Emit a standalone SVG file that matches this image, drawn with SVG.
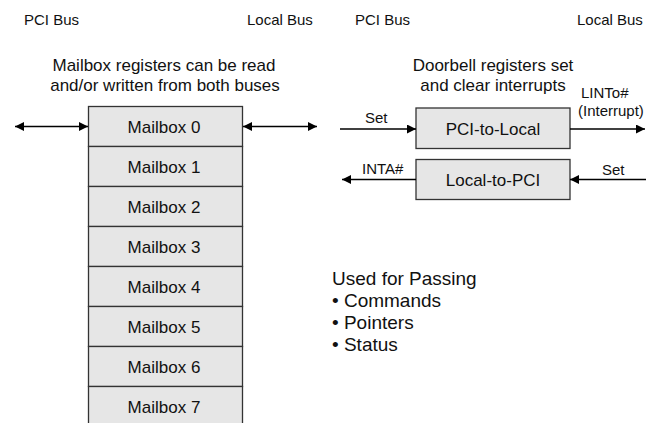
<svg xmlns="http://www.w3.org/2000/svg" width="646" height="423" viewBox="0 0 646 423">
<defs>
<marker id="ah" viewBox="0 0 10 10" refX="10" refY="5" markerWidth="10" markerHeight="9" markerUnits="userSpaceOnUse" orient="auto-start-reverse"><path d="M0,0 L10,5 L0,10 z" fill="#000"/></marker>
<style>
text{font-family:"Liberation Sans",Arial,sans-serif;fill:#111}
.sm{font-size:15px}
.tt{font-size:17px;text-anchor:middle}
.mb{font-size:17px;text-anchor:middle}
.ls{font-size:19px}
.box{fill:#e6e6e6;stroke:#333;stroke-width:1.3}
.ln{stroke:#000;stroke-width:1.6;fill:none}
</style>
</defs>
<rect width="646" height="423" fill="#fff"/>
<text class="sm" x="24" y="25">PCI Bus</text>
<text class="sm" x="247" y="25">Local Bus</text>
<text class="sm" x="355" y="25">PCI Bus</text>
<text class="sm" x="577" y="25">Local Bus</text>
<text class="tt" x="164" y="71">Mailbox registers can be read</text>
<text class="tt" x="165" y="91">and/or written from both buses</text>
<text class="tt" x="493" y="71">Doorbell registers set</text>
<text class="tt" x="493" y="91">and clear interrupts</text>
<g id="mailbox0"><rect class="box" x="88.5" y="106.5" width="154" height="40"/><text class="mb" x="164" y="132.5">Mailbox 0</text></g>
<g id="mailbox1"><rect class="box" x="88.5" y="146.5" width="154" height="40"/><text class="mb" x="164" y="172.5">Mailbox 1</text></g>
<g id="mailbox2"><rect class="box" x="88.5" y="186.5" width="154" height="40"/><text class="mb" x="164" y="212.5">Mailbox 2</text></g>
<g id="mailbox3"><rect class="box" x="88.5" y="226.5" width="154" height="40"/><text class="mb" x="164" y="252.5">Mailbox 3</text></g>
<g id="mailbox4"><rect class="box" x="88.5" y="266.5" width="154" height="40"/><text class="mb" x="164" y="292.5">Mailbox 4</text></g>
<g id="mailbox5"><rect class="box" x="88.5" y="306.5" width="154" height="40"/><text class="mb" x="164" y="332.5">Mailbox 5</text></g>
<g id="mailbox6"><rect class="box" x="88.5" y="346.5" width="154" height="40"/><text class="mb" x="164" y="372.5">Mailbox 6</text></g>
<g id="mailbox7"><rect class="box" x="88.5" y="386.5" width="154" height="40"/><text class="mb" x="164" y="412.5">Mailbox 7</text></g>
<g id="pci-to-local"><rect class="box" x="416" y="108" width="154" height="40.5"/><text class="mb" x="493" y="134.5">PCI-to-Local</text></g>
<g id="local-to-pci"><rect class="box" x="416" y="159.5" width="154" height="40"/><text class="mb" x="493" y="185.5">Local-to-PCI</text></g>
<g id="connectors">
<line class="ln" x1="15" y1="126.5" x2="88" y2="126.5" marker-start="url(#ah)" marker-end="url(#ah)"/>
<line class="ln" x1="243" y1="126.5" x2="317" y2="126.5" marker-start="url(#ah)" marker-end="url(#ah)"/>
<line class="ln" x1="340" y1="129" x2="416" y2="129" marker-end="url(#ah)"/>
<line class="ln" x1="570" y1="129" x2="645" y2="129" marker-end="url(#ah)"/>
<line class="ln" x1="416" y1="179.5" x2="342" y2="179.5" marker-end="url(#ah)"/>
<line class="ln" x1="646" y1="179.5" x2="570" y2="179.5" marker-end="url(#ah)"/>
</g>
<text class="sm" x="365" y="123">Set</text>
<text class="sm" x="362" y="174">INTA#</text>
<text class="sm" x="581" y="98">LINTo#</text>
<text class="sm" x="578" y="116">(Interrupt)</text>
<text class="sm" x="602" y="175">Set</text>
<text class="ls" x="332" y="285">Used for Passing</text>
<text class="ls" x="332" y="307">• Commands</text>
<text class="ls" x="332" y="329">• Pointers</text>
<text class="ls" x="332" y="351">• Status</text>
</svg>
